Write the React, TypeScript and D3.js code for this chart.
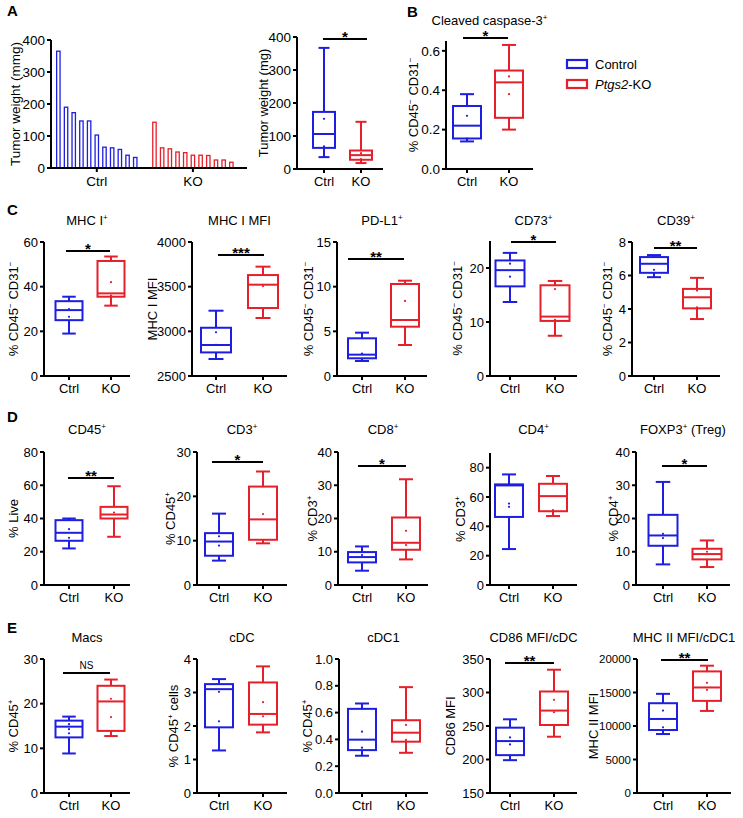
import React from "react";
import * as d3 from "d3";

const BLUE = "#1e1ee0";
const RED = "#e5202a";
const FONT = "'Liberation Sans', Arial, Helvetica, sans-serif";

// ---------- DATA ----------
const groups = ["Ctrl", "KO"];
const ctrlTumorWeights = [365, 190, 173, 147, 147, 103, 65, 63, 58, 40, 33];
const koTumorWeights = [143, 63, 60, 50, 48, 40, 40, 39, 25, 25, 18];
const barTicks = [0, 100, 200, 300, 400];

const panelTitles = [
  "", "Cleaved caspase-3^+",
  "MHC I^+", "MHC I MFI", "PD-L1^+", "CD73^+", "CD39^+",
  "CD45^+", "CD3^+", "CD8^+", "CD4^+", "FOXP3^+ (Treg)",
  "Macs", "cDC", "cDC1", "CD86 MFI/cDC", "MHC II MFI/cDC1",
];
const yLabels = [
  "Tumor weight (mg)", "% CD45^- CD31^-",
  "% CD45^- CD31^-", "MHC I MFI", "% CD45^- CD31^-", "% CD45^- CD31^-", "% CD45^- CD31^-",
  "% Live", "% CD45^+", "% CD3^+", "% CD3^+", "% CD4^+",
  "% CD45^+", "% CD45^+ cells", "% CD45^+", "CD86 MFI", "MHC II MFI",
];
const yDomains = [
  [0, 400], [0, 0.65],
  [0, 60], [2500, 4000], [0, 15], [0, 25], [0, 8],
  [0, 80], [0, 30], [0, 40], [0, 90], [0, 40],
  [0, 30], [0, 4], [0, 1], [150, 350], [0, 20000],
];
const yTicks = [
  [0, 100, 200, 300, 400], [0, 0.2, 0.4, 0.6],
  [0, 20, 40, 60], [2500, 3000, 3500, 4000], [0, 5, 10, 15], [0, 10, 20], [0, 2, 4, 6, 8],
  [0, 20, 40, 60, 80], [0, 10, 20, 30], [0, 10, 20, 30, 40], [0, 20, 40, 60, 80], [0, 10, 20, 30, 40],
  [0, 10, 20, 30], [0, 1, 2, 3, 4], [0, 0.2, 0.4, 0.6, 0.8, 1.0], [150, 200, 250, 300, 350], [0, 5000, 10000, 15000, 20000],
];
const tickFormats = ["d", ".1f", "d", "d", "d", "d", "d", "d", "d", "d", "d", "d", "d", "d", ".1f", "d", "d"];
// [min, q1, median, q3, max]
const ctrlBoxes = [
  [36, 64, 106, 173, 367], [0.14, 0.155, 0.22, 0.32, 0.38],
  [19, 25, 29.5, 33.5, 35.5], [2690, 2764, 2847, 3040, 3231], [1.68, 1.98, 2.39, 4.22, 4.85], [13.7, 16.6, 19.6, 21.4, 22.8], [5.9, 6.16, 6.7, 7.1, 7.22],
  [22, 26.6, 31.4, 39, 40], [5.5, 6.6, 9.8, 11.7, 16.1], [4.3, 6.8, 8.4, 9.9, 11.6], [24.5, 46.4, 67.9, 68.6, 75.4], [6.2, 11.8, 14.9, 21.1, 31],
  [8.85, 12.45, 14.85, 16.2, 17.1], [1.27, 1.96, 3.1, 3.25, 3.4], [0.278, 0.32, 0.398, 0.628, 0.668], [199, 206.5, 227.5, 247.5, 260], [8800, 9400, 11050, 13400, 14800],
];
const koBoxes = [
  [18, 28, 42, 56, 143], [0.2, 0.26, 0.44, 0.5, 0.63],
  [31.5, 35.5, 37, 51.5, 53.5], [3149, 3261, 3522, 3630, 3724], [3.47, 5.52, 6.27, 10.3, 10.67], [7.45, 10.2, 11.0, 16.8, 17.6], [3.4, 4.04, 4.7, 5.2, 5.86],
  [29, 40, 42.4, 47, 59.4], [9.4, 10.2, 14.8, 22.2, 25.6], [7.7, 10.6, 12.7, 20.3, 31.8], [47, 50.3, 60.6, 69, 74.3], [5.4, 7.7, 9.3, 10.9, 13.4],
  [12.75, 13.9, 20.5, 24, 25.4], [1.81, 2.04, 2.36, 3.3, 3.78], [0.3, 0.383, 0.45, 0.543, 0.79], [234, 251.5, 273, 301.5, 334], [12250, 13750, 15750, 18150, 19000],
];
const ctrlDots = [
  [152, 69], [0.27, 0.155],
  [30, 26.5], [2990, 2850], [2.5], [20.8, 18.4], [6.34],
  [33.6, 28.4], [11, 8.9, 6.2], [9, 6.2], [55.5, 53.3], [15.4, 14.1],
  [15.4, 14.3, 13.35], [3.02, 2.14], [0.458, 0.338], [233, 222.5], [12300, 9800],
];
const koDots = [
  [48, 30], [0.47, 0.38],
  [42, 36], [3507], [8.4], [16.1, 10.4], [5.1, 4.1],
  [43.6], [16], [16.3, 12], [51], [10],
  [21.1, 17], [2.71, 2.29], [0.508, 0.396], [289, 270.5], [16450, 15400],
];
const sigLabels = ["*", "*", "*", "***", "**", "*", "**", "**", "*", "*", "", "*", "NS", "", "", "**", "**"];
const panelLetters = ["A", "B", "C", "D", "E"];
const legendLabels = ["Control", "Ptgs2-KO"];

// ---------- LAYOUT ----------
type L = { ax: number; xe: number; cx: number; kx: number; top: number; bot: number; yl: number; ty: number; sy?: number; s1?: number; s2?: number; bw: number; fs: number };
const layouts: L[] = [
  { ax: 297, xe: 383, cx: 324, kx: 361, top: 37, bot: 169, yl: 263, ty: 0, sy: 39, s1: 323, s2: 367, bw: 22, fs: 13.5 },
  { ax: 446, xe: 533, cx: 467, kx: 509, top: 41, bot: 169, yl: 413, ty: 25, sy: 38, s1: 463, s2: 508, bw: 28, fs: 13.5 },
  { ax: 44, xe: 130, cx: 69, kx: 111, top: 242, bot: 376, yl: 13, ty: 225, sy: 251, s1: 66, s2: 110, bw: 27, fs: 13 },
  { ax: 192, xe: 287, cx: 216, kx: 263, top: 242, bot: 376, yl: 152, ty: 225, sy: 255, s1: 218, s2: 264, bw: 30, fs: 13 },
  { ax: 337, xe: 427, cx: 362, kx: 405, top: 242, bot: 376, yl: 308, ty: 225, sy: 259, s1: 348, s2: 404, bw: 28, fs: 13 },
  { ax: 490, xe: 577, cx: 510, kx: 555, top: 241, bot: 376, yl: 457, ty: 225, sy: 242, s1: 511, s2: 556, bw: 29, fs: 13 },
  { ax: 632, xe: 720, cx: 654, kx: 697, top: 242, bot: 376, yl: 607, ty: 225, sy: 248, s1: 654, s2: 697, bw: 28, fs: 13 },
  { ax: 44, xe: 130, cx: 69, kx: 114, top: 452, bot: 585, yl: 13, ty: 434, sy: 478, s1: 68, s2: 114, bw: 27, fs: 13 },
  { ax: 197, xe: 287, cx: 219, kx: 263, top: 452, bot: 585, yl: 170, ty: 434, sy: 462, s1: 212, s2: 263, bw: 28, fs: 13 },
  { ax: 338, xe: 428, cx: 362, kx: 406, top: 452, bot: 585, yl: 312, ty: 434, sy: 466, s1: 358, s2: 406, bw: 28, fs: 13 },
  { ax: 490, xe: 577, cx: 509, kx: 553, top: 453, bot: 585, yl: 460, ty: 434, bw: 28, fs: 13 },
  { ax: 636, xe: 730, cx: 663, kx: 707, top: 452, bot: 585, yl: 613, ty: 434, sy: 466, s1: 662, s2: 707, bw: 29, fs: 13 },
  { ax: 44, xe: 130, cx: 69, kx: 111, top: 659, bot: 793, yl: 13, ty: 642, sy: 673, s1: 63, s2: 110, bw: 27, fs: 13 },
  { ax: 197, xe: 287, cx: 219, kx: 263, top: 659, bot: 793, yl: 173, ty: 642, bw: 28, fs: 13 },
  { ax: 339, xe: 428, cx: 362, kx: 406, top: 659, bot: 793, yl: 307, ty: 642, bw: 28, fs: 13 },
  { ax: 490, xe: 577, cx: 510, kx: 554, top: 659, bot: 793, yl: 450, ty: 642, sy: 663, s1: 505, s2: 554, bw: 28, fs: 13 },
  { ax: 637, xe: 731, cx: 663, kx: 707, top: 659, bot: 793, yl: 593, ty: 642, sy: 660, s1: 661, s2: 708, bw: 28, fs: 11.5 },
];
const letterPos = [[7, 16], [407, 17], [7, 215], [7, 422], [7, 633]];

function Rich({ text, size = 13 }: { text: string; size?: number }) {
  const parts = text.split(/(\^[+-])/).filter((p) => p.length);
  const out: any[] = [];
  let raised = false;
  parts.forEach((p, k) => {
    if (p.startsWith("^")) {
      out.push(
        <tspan key={k} fontSize={size * 0.62} dy={raised ? 0 : -size * 0.38}>
          {p[1] === "-" ? "\u2212" : "+"}
        </tspan>
      );
      raised = true;
    } else {
      out.push(
        <tspan key={k} dy={raised ? size * 0.38 : 0}>
          {p}
        </tspan>
      );
      raised = false;
    }
  });
  return <>{out}</>;
}

function BoxPanel({ i }: { i: number }) {
  const L = layouts[i];
  const y = d3.scaleLinear().domain(yDomains[i]).range([L.bot, L.top]);
  const x = d3.scalePoint<string>().domain(groups).range([L.cx, L.kx]);
  const fmt = d3.format(tickFormats[i]);
  const mid = (L.top + L.bot) / 2;
  const series = [
    { g: "Ctrl", b: ctrlBoxes[i], d: ctrlDots[i], c: BLUE },
    { g: "KO", b: koBoxes[i], d: koDots[i], c: RED },
  ];
  const cap = L.bw * 0.25;
  return (
    <g>
      {panelTitles[i] && (
        <text x={(L.ax + L.xe) / 2} y={L.ty} textAnchor="middle" fontSize={13}>
          <Rich text={panelTitles[i]} />
        </text>
      )}
      <text transform={`translate(${L.yl + 4.5},${mid}) rotate(-90)`} textAnchor="middle" fontSize={13}>
        <Rich text={yLabels[i]} />
      </text>
      {yTicks[i].map((t) => (
        <g key={t}>
          <line x1={L.ax - 4} x2={L.ax} y1={y(t)} y2={y(t)} stroke="#000" strokeWidth={2} />
          <text x={L.ax - 6} y={y(t) + L.fs * 0.36} textAnchor="end" fontSize={L.fs}>
            {fmt(t)}
          </text>
        </g>
      ))}
      <line x1={L.ax} x2={L.ax} y1={L.top} y2={L.bot + 1} stroke="#000" strokeWidth={2} />
      <line x1={L.ax - 1} x2={L.xe} y1={L.bot} y2={L.bot} stroke="#000" strokeWidth={2} />
      {groups.map((g) => (
        <g key={g}>
          <line x1={x(g)} x2={x(g)} y1={L.bot} y2={L.bot + 4} stroke="#000" strokeWidth={2} />
          <text x={x(g)} y={L.bot + 17} textAnchor="middle" fontSize={13}>
            {g}
          </text>
        </g>
      ))}
      {series.map((s) => {
        const cx = x(s.g) as number;
        const [mn, q1, md, q3, mx] = s.b;
        return (
          <g key={s.g} stroke={s.c} strokeWidth={2} fill="none">
            <line x1={cx} x2={cx} y1={y(mx)} y2={y(q3)} />
            <line x1={cx} x2={cx} y1={y(q1)} y2={y(mn)} />
            <line x1={cx - cap} x2={cx + cap} y1={y(mx)} y2={y(mx)} />
            <line x1={cx - cap} x2={cx + cap} y1={y(mn)} y2={y(mn)} />
            <rect x={cx - L.bw / 2} y={y(q3)} width={L.bw} height={y(q1) - y(q3)} fill="#fff" />
            <line x1={cx - L.bw / 2} x2={cx + L.bw / 2} y1={y(md)} y2={y(md)} />
            {s.d.map((v, k) => (
              <circle key={k} cx={cx} cy={y(v)} r={1.1} fill={s.c} stroke="none" />
            ))}
          </g>
        );
      })}
      {sigLabels[i] && L.sy !== undefined && (
        <g>
          <line x1={L.s1} x2={L.s2} y1={L.sy} y2={L.sy} stroke="#000" strokeWidth={2} />
          {sigLabels[i] === "NS" ? (
            <text x={((L.s1 as number) + (L.s2 as number)) / 2} y={L.sy - 4} textAnchor="middle" fontSize={10}>
              NS
            </text>
          ) : (
            <text x={((L.s1 as number) + (L.s2 as number)) / 2} y={L.sy + 3} textAnchor="middle" fontSize={15} fontWeight="bold">
              {sigLabels[i]}
            </text>
          )}
        </g>
      )}
    </g>
  );
}

function BarPanel() {
  const ax = 51, xe = 247, top = 40, bot = 168;
  const y = d3.scaleLinear().domain([0, 400]).range([bot, top]);
  const pos = d3.scaleLinear().domain([0, 22.5]).range([56, 229]);
  const bw = 4.7;
  const koOffset = 12.5;
  const ctrlCenter = (pos(0) + pos(ctrlTumorWeights.length - 1)) / 2 + bw / 2;
  const koCenter = (pos(koOffset) + pos(koOffset + koTumorWeights.length - 1)) / 2 + bw / 2;
  const bars = [
    ...ctrlTumorWeights.map((v, k) => ({ v, xx: pos(k), c: BLUE })),
    ...koTumorWeights.map((v, k) => ({ v, xx: pos(k + koOffset), c: RED })),
  ];
  return (
    <g>
      <text transform={`translate(${15 + 4.5},${(top + bot) / 2}) rotate(-90)`} textAnchor="middle" fontSize={13.5}>
        Tumor weight (mmg)
      </text>
      {barTicks.map((t) => (
        <g key={t}>
          <line x1={ax - 4} x2={ax} y1={y(t)} y2={y(t)} stroke="#000" strokeWidth={2} />
          <text x={ax - 6} y={y(t) + 5} textAnchor="end" fontSize={13.5}>
            {t}
          </text>
        </g>
      ))}
      {bars.map((b, k) => (
        <rect key={k} x={b.xx + 0.65} y={y(b.v)} width={bw - 1.3} height={bot - y(b.v)} fill="#fff" stroke={b.c} strokeWidth={1.3} />
      ))}
      <line x1={ax} x2={ax} y1={top} y2={bot + 1} stroke="#000" strokeWidth={2} />
      <line x1={ax - 1} x2={xe} y1={bot} y2={bot} stroke="#000" strokeWidth={2} />
      {[
        ["Ctrl", ctrlCenter],
        ["KO", koCenter],
      ].map(([g, cx]) => (
        <g key={g as string}>
          <line x1={cx as number} x2={cx as number} y1={bot} y2={bot + 4} stroke="#000" strokeWidth={2} />
          <text x={cx as number} y={bot + 18} textAnchor="middle" fontSize={13.5}>
            {g}
          </text>
        </g>
      ))}
    </g>
  );
}

export default function App() {
  return (
    <svg width={743} height={818} style={{ display: "block", position: "absolute", left: 0, top: 0 }} fontFamily={FONT}>
      <rect width={743} height={818} fill="#fff" />
      {panelLetters.map((l, k) => (
        <text key={l} x={letterPos[k][0]} y={letterPos[k][1]} fontSize={15} fontWeight={900}>
          {l}
        </text>
      ))}
      <BarPanel />
      {layouts.map((_, i) => (
        <BoxPanel key={i} i={i} />
      ))}
      <g>
        {[BLUE, RED].map((c, k) => (
          <g key={c}>
            <rect x={567} y={60 + k * 20} width={20} height={8} fill="none" stroke={c} strokeWidth={2.2} />
            <text x={595} y={68.5 + k * 20} fontSize={13}>
              {k === 0 ? (
                legendLabels[0]
              ) : (
                <>
                  <tspan fontStyle="italic">{legendLabels[1].split("-")[0]}</tspan>
                  <tspan>-{legendLabels[1].split("-")[1]}</tspan>
                </>
              )}
            </text>
          </g>
        ))}
      </g>
    </svg>
  );
}
